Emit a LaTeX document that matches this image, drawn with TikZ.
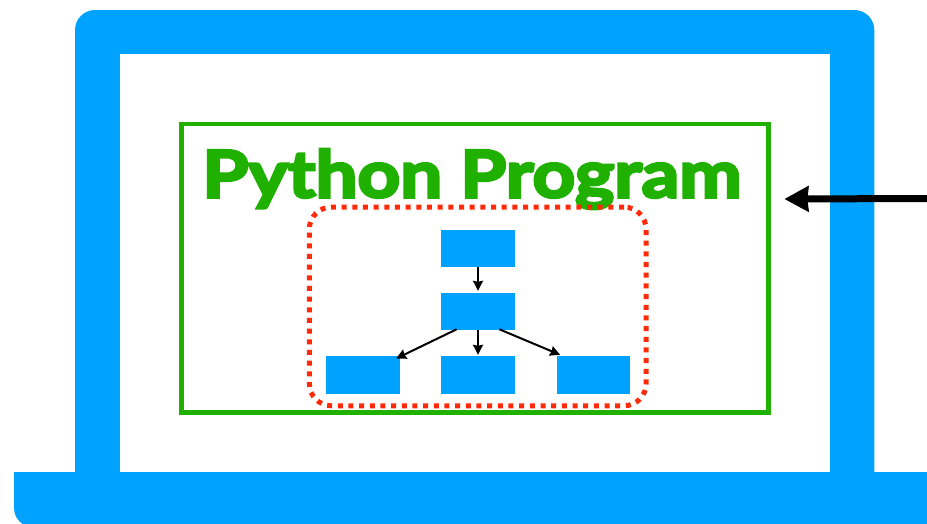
\documentclass[tikz,border=0pt]{standalone}
\usepackage{fontspec}
\newfontfamily\ttlfont{Lato}[UprightFont=* Bold,FakeBold=4.5,FakeStretch=1.145]
\usetikzlibrary{arrows.meta,calc}
\definecolor{lapblue}{HTML}{00A2FF}
\definecolor{pygreen}{HTML}{20B000}
\definecolor{dotred}{HTML}{FF2A0A}
\tikzset{
 box/.style={fill=lapblue,minimum width=73.4pt,minimum height=37.6pt,inner sep=0pt,anchor=center},
 edge/.style={black,line width=2pt,-{Stealth[length=10pt,width=10pt,inset=1pt]}}}
\begin{document}
\begin{tikzpicture}[x=1pt,y=-1pt]
\useasboundingbox (0,0) rectangle (927,523);
\fill[lapblue,rounded corners=20pt] (75,10) rectangle (874.3,510);
\fill[white] (120,54) rectangle (830,480);
\fill[lapblue,rounded corners=19pt] (14,472) rectangle (980,527);
\fill[lapblue] (14,472) rectangle (980,495);
\node[draw=pygreen,line width=4.7pt,minimum width=587pt,minimum height=288.5pt,inner sep=0pt] (prog) at (475,268.2) {};
\node[text=pygreen,font=\ttlfont\fontsize{65}{65}\selectfont,inner sep=0pt] (title) at (472,179) {Python Program};
\node[draw=dotred,line width=5pt,dash pattern=on 5pt off 5.67pt,rounded corners=22pt,minimum width=336.7pt,minimum height=198.7pt,inner sep=0pt] (group) at (477.7,306.4) {};
\node[box] (a) at (478,248.3) {};
\node[box] (b) at (478,311.3) {};
\node[box] (c) at (363,374.8) {};
\node[box] (d) at (478,374.8) {};
\node[box] (e) at (593.3,374.8) {};
\draw[edge] (a.south) -- ($(b.north)+(0,-1.5)$);
\draw[edge] (b.south) -- ($(d.north)+(0,-1)$);
\draw[edge] ($(b.south west)+(15.5,-1)$) -- ($(c.north east)+(-3.7,2.7)$);
\draw[edge] ($(b.south east)+(-15.5,-1)$) -- ($(e.north west)+(3.7,-1)$);
\coordinate (tail) at (927,198.5);
\coordinate (tip) at ($(prog.east)+(13.5,-69.2)$);
\draw[black,line width=7pt,-{Stealth[length=24pt,width=25pt,inset=1pt]}] (tail) -- (tip);
\end{tikzpicture}
\end{document}
